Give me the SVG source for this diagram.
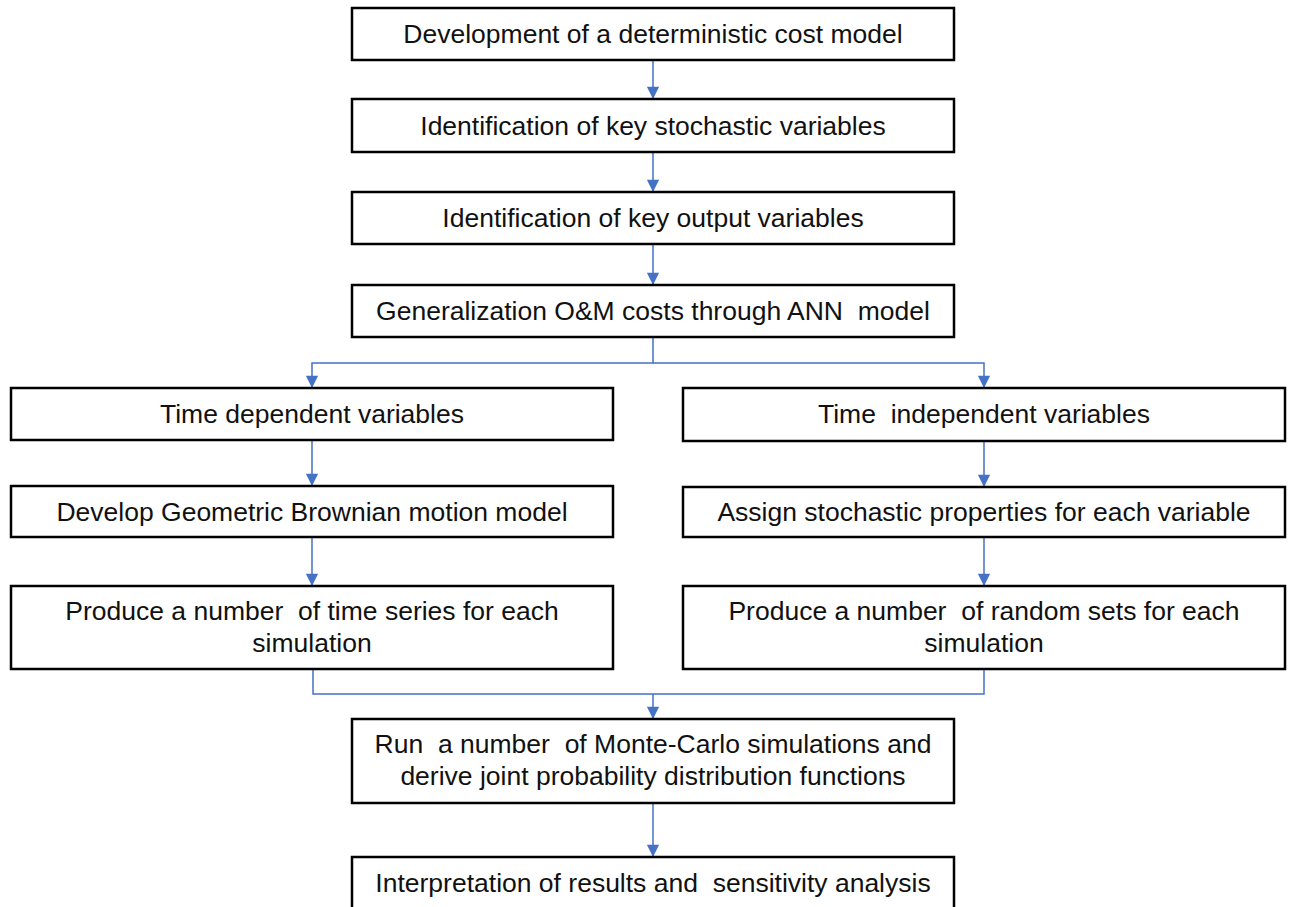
<svg xmlns="http://www.w3.org/2000/svg" width="1292" height="907" viewBox="0 0 1292 907">
<defs>
<style>
.box{fill:#fff;stroke:#000;stroke-width:2.5}
.t{font-family:"Liberation Sans",Arial,sans-serif;font-size:26.5px;fill:#111;text-anchor:middle;white-space:pre}
.c{fill:none;stroke:#4472C4;stroke-width:1.5}
</style>
<marker id="ah" viewBox="0 0 14 16" refX="14" refY="7" markerWidth="16" markerHeight="14" markerUnits="userSpaceOnUse" orient="auto">
<path d="M0,0 L14,7 L0,14 Z" fill="#4472C4"/>
</marker>
</defs>
<rect width="1292" height="907" fill="#fff"/>
<g id="connectors">
<path class="c" d="M653,60 V99" marker-end="url(#ah)"/>
<path class="c" d="M653,152 V192" marker-end="url(#ah)"/>
<path class="c" d="M653,244 V285" marker-end="url(#ah)"/>
<path class="c" d="M653,337 V363 H312 V388" marker-end="url(#ah)"/>
<path class="c" d="M653,363 H984 V388" marker-end="url(#ah)"/>
<path class="c" d="M312,440 V486" marker-end="url(#ah)"/>
<path class="c" d="M984,441 V487" marker-end="url(#ah)"/>
<path class="c" d="M312,537 V586" marker-end="url(#ah)"/>
<path class="c" d="M984,537 V586" marker-end="url(#ah)"/>
<path class="c" d="M313,669 V694 H984 V669"/>
<path class="c" d="M653,694 V719" marker-end="url(#ah)"/>
<path class="c" d="M653,803 V857" marker-end="url(#ah)"/>
</g>
<g id="n1"><rect class="box" x="352" y="8" width="602" height="52"/><text class="t" x="653" y="43">Development of a deterministic cost model</text></g>
<g id="n2"><rect class="box" x="352" y="99" width="602" height="53"/><text class="t" x="653" y="135">Identification of key stochastic variables</text></g>
<g id="n3"><rect class="box" x="352" y="192" width="602" height="52"/><text class="t" x="653" y="227">Identification of key output variables</text></g>
<g id="n4"><rect class="box" x="352" y="285" width="602" height="52"/><text class="t" x="653" y="320" xml:space="preserve">Generalization O&amp;M costs through ANN  model</text></g>
<g id="n5"><rect class="box" x="11" y="388" width="602" height="52"/><text class="t" x="312" y="423">Time dependent variables</text></g>
<g id="n6"><rect class="box" x="683" y="388" width="602" height="53"/><text class="t" x="984" y="423" xml:space="preserve">Time  independent variables</text></g>
<g id="n7"><rect class="box" x="11" y="486" width="602" height="51"/><text class="t" x="312" y="521">Develop Geometric Brownian motion model</text></g>
<g id="n8"><rect class="box" x="683" y="487" width="602" height="50"/><text class="t" x="984" y="521">Assign stochastic properties for each variable</text></g>
<g id="n9"><rect class="box" x="11" y="586" width="602" height="83"/><text class="t" x="312" y="620" xml:space="preserve">Produce a number  of time series for each</text><text class="t" x="312" y="652">simulation</text></g>
<g id="n10"><rect class="box" x="683" y="586" width="602" height="83"/><text class="t" x="984" y="620" xml:space="preserve">Produce a number  of random sets for each</text><text class="t" x="984" y="652">simulation</text></g>
<g id="n11"><rect class="box" x="352" y="719" width="602" height="84"/><text class="t" x="653" y="753" xml:space="preserve">Run  a number  of Monte-Carlo simulations and</text><text class="t" x="653" y="785">derive joint probability distribution functions</text></g>
<g id="n12"><rect class="box" x="352" y="857" width="602" height="60"/><text class="t" x="653" y="892" xml:space="preserve">Interpretation of results and  sensitivity analysis</text></g>
</svg>
